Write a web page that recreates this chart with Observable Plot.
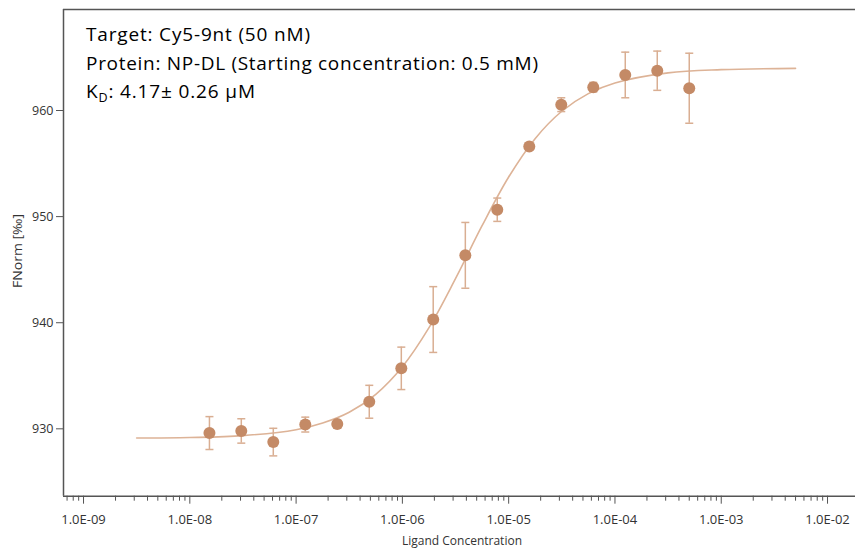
<!DOCTYPE html>
<html>
<head>
<meta charset="utf-8">
<script src="https://cdn.jsdelivr.net/npm/d3@7"></script>
<script src="https://cdn.jsdelivr.net/npm/@observablehq/plot@0.6"></script>
<style>
  html, body { margin: 0; padding: 0; background: #fff; }
  #chart svg { display: block; }
</style>
</head>
<body>
<div id="chart"></div>
<script>
// ---- Data ----
const concentrations = [1.53e-8, 3.05e-8, 6.1e-8, 1.22e-7, 2.44e-7, 4.88e-7, 9.77e-7, 1.95e-6, 3.91e-6, 7.81e-6, 1.5625e-5, 3.125e-5, 6.25e-5, 1.25e-4, 2.5e-4, 5e-4];
const fnorm = [929.6, 929.8, 928.75, 930.4, 930.45, 932.55, 935.7, 940.3, 946.35, 950.65, 956.6, 960.55, 962.2, 963.35, 963.75, 962.1];
const fnormError = [1.55, 1.15, 1.3, 0.7, 0.35, 1.55, 2.0, 3.1, 3.1, 1.1, 0.2, 0.65, 0.45, 2.15, 1.85, 3.3];

const fitConcentrations = [3.16e-9, 1e-8, 3.16e-8, 1e-7, 1.78e-7, 3.16e-7, 5.62e-7, 1e-6, 1.78e-6, 3.16e-6, 5.62e-6, 1e-5, 1.78e-5, 3.16e-5, 5.62e-5, 1e-4, 3.16e-4, 1e-3, 5e-3];
const fitValues = [929.13, 929.18, 929.36, 929.92, 930.55, 931.56, 933.25, 935.85, 939.53, 944.15, 949.14, 953.73, 957.37, 959.93, 961.59, 962.6, 963.55, 963.85, 963.97];

const xTicks = [1e-9, 1e-8, 1e-7, 1e-6, 1e-5, 1e-4, 1e-3, 1e-2];
const xTickLabels = ["1.0E-09", "1.0E-08", "1.0E-07", "1.0E-06", "1.0E-05", "1.0E-04", "1.0E-03", "1.0E-02"];
const minorMultipliers = [2, 3, 4, 5, 6, 7, 8, 9];
const yTicks = [930, 940, 950, 960];

const annotationLines = ["Target: Cy5-9nt (50 nM)", "Protein: NP-DL (Starting concentration: 0.5 mM)"];
const kdText = ": 4.17\u00B1 0.26 \u00B5M";
const xLabel = "Ligand Concentration";
const yLabel = "FNorm [\u2030]";

// ---- Build tables ----
const points = concentrations.map((c, i) => ({c, v: fnorm[i], e: fnormError[i]}));
const fit = fitConcentrations.map((c, i) => ({c, v: fitValues[i]}));
const minorTicks = [1e-10, ...xTicks].flatMap(d => minorMultipliers.map(m => d * m));

const xDomain = [6.48e-10, 0.01833];
const yDomain = [923.65, 969.52];

const capSymbol = {
  draw(context) {
    context.moveTo(-4, 0);
    context.lineTo(4, 0);
  }
};

const dotColor = "#C48A66";
const barColor = "#D9AE92";
const fitColor = "#DDB397";
const axisColor = "#555";
const textColor = "#333";

const svg = Plot.plot({
  width: 855,
  height: 554,
  marginLeft: 63,
  marginRight: 0,
  marginTop: 9,
  marginBottom: 58.3,
  style: {fontFamily: "'Open Sans', sans-serif", background: "#fff"},
  x: {type: "log", domain: xDomain},
  y: {domain: yDomain},
  marks: [
    Plot.ruleX([xDomain[0]], {stroke: axisColor, strokeWidth: 1.5}),
    Plot.ruleY(yDomain, {stroke: axisColor, strokeWidth: 1.5}),
    Plot.axisX(minorTicks.filter(d => d >= xDomain[0] && d <= xDomain[1]), {
      tickSize: 5, tickFormat: () => "", stroke: axisColor, label: null
    }),
    Plot.axisX(xTicks, {
      tickSize: 8, tickPadding: 11, fontSize: 13, stroke: axisColor, fill: textColor,
      tickFormat: d => xTickLabels[xTicks.indexOf(d)], label: null
    }),
    Plot.axisY(yTicks, {
      tickSize: 7, tickPadding: 3, fontSize: 12.5, stroke: axisColor, fill: textColor,
      tickFormat: d => String(d), label: null
    }),
    Plot.line(fit, {x: "c", y: "v", stroke: fitColor, strokeWidth: 1.6, curve: "catmull-rom"}),
    Plot.ruleX(points, {x: "c", y1: d => d.v - d.e, y2: d => d.v + d.e, stroke: barColor, strokeWidth: 1.5}),
    Plot.dot(points, {x: "c", y: d => d.v - d.e, symbol: capSymbol, r: 4, stroke: barColor, strokeWidth: 1.5, fill: "none"}),
    Plot.dot(points, {x: "c", y: d => d.v + d.e, symbol: capSymbol, r: 4, stroke: barColor, strokeWidth: 1.5, fill: "none"}),
    Plot.dot(points, {x: "c", y: "v", r: 6, fill: dotColor, stroke: "none"})
  ]
});

const s = d3.select(svg);
const annot = s.append("g")
  .attr("font-family", "'Open Sans', sans-serif")
  .attr("font-size", 19)
  .attr("text-anchor", "start")
  .attr("fill", "#000");
const lineWidths = [224, 452];
annotationLines.forEach((t, i) => {
  annot.append("text")
    .attr("x", 86).attr("y", 41 + i * 28.5)
    .attr("textLength", lineWidths[i]).attr("lengthAdjust", "spacing")
    .text(t);
});
const kd = annot.append("text").attr("x", 86).attr("y", 41 + 2 * 28.5)
  .attr("textLength", 169).attr("lengthAdjust", "spacing");
kd.append("tspan").text("K");
kd.append("tspan").attr("font-size", 12.5).attr("dy", 4).text("D");
kd.append("tspan").attr("dy", -4).text(kdText);

s.append("text")
  .attr("x", 462).attr("y", 545)
  .attr("text-anchor", "middle")
  .attr("font-family", "'Open Sans', sans-serif")
  .attr("font-size", 12)
  .attr("fill", textColor)
  .text(xLabel);

s.append("text")
  .attr("transform", "translate(22,251) rotate(-90)")
  .attr("text-anchor", "middle")
  .attr("font-family", "'Open Sans', sans-serif")
  .attr("font-size", 12)
  .attr("textLength", 74)
  .attr("lengthAdjust", "spacingAndGlyphs")
  .attr("fill", textColor)
  .text(yLabel);

document.getElementById("chart").appendChild(svg);
</script>
</body>
</html>
